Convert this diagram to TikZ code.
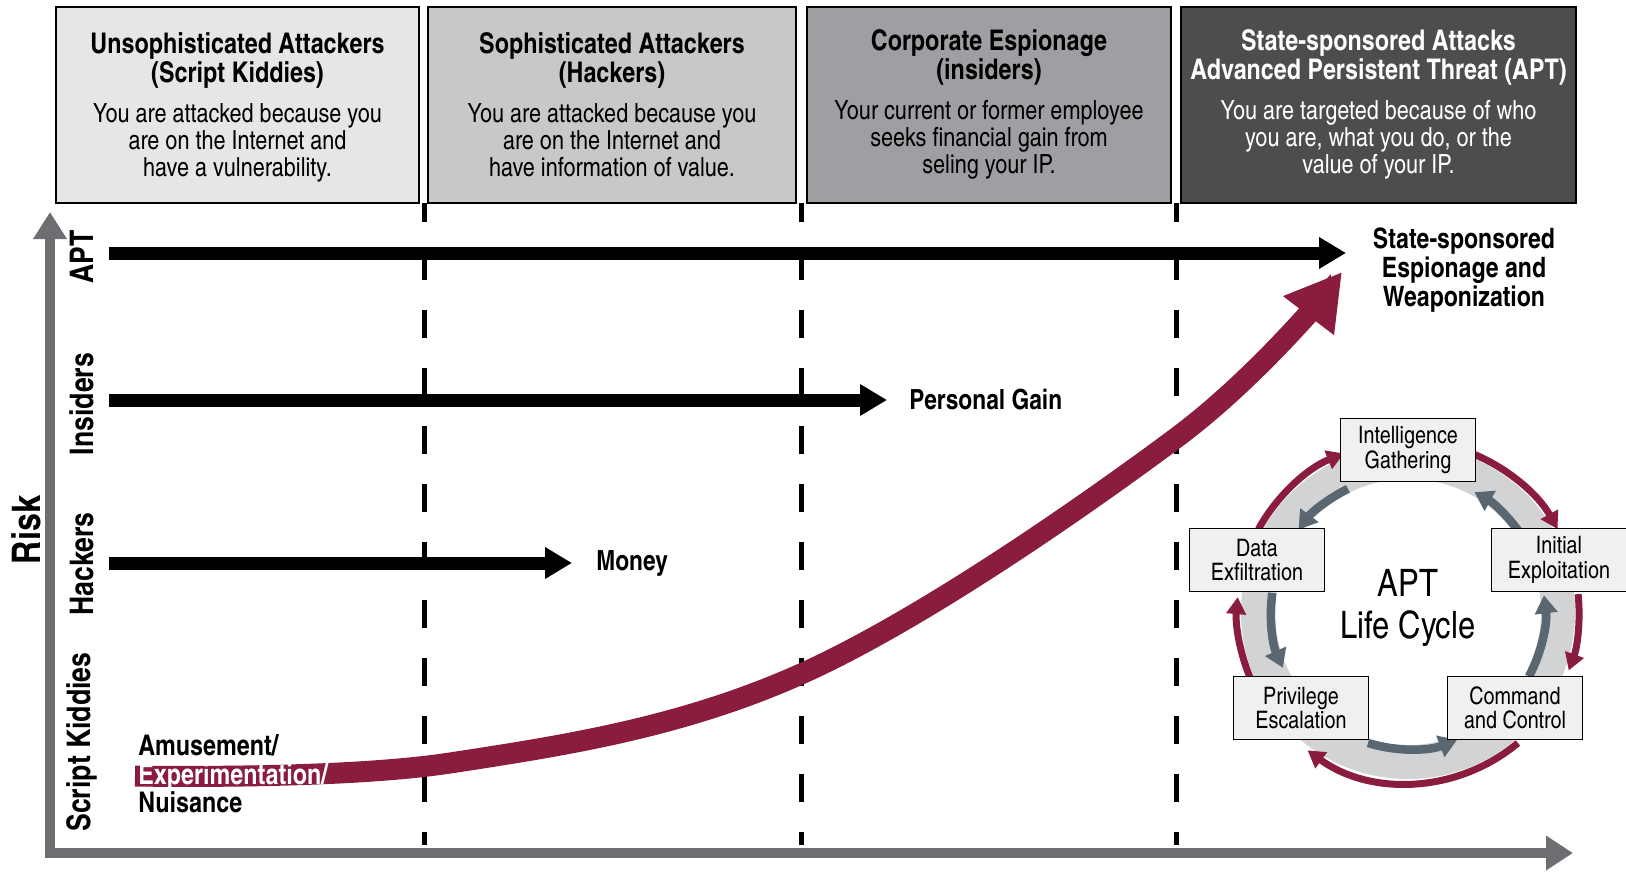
\documentclass[tikz,border=0pt]{standalone}
\usepackage{fontspec}
\setmainfont{texgyreheroscn}[Extension=.otf, UprightFont=*-regular, BoldFont=*-bold, ItalicFont=*-italic, BoldItalicFont=*-bolditalic]
\usetikzlibrary{positioning}
\usetikzlibrary{arrows.meta}

\definecolor{hdone}{HTML}{E6E6E7}
\definecolor{hdtwo}{HTML}{C7C8CA}
\definecolor{hdthree}{HTML}{9D9FA2}
\definecolor{hdfour}{HTML}{4D4D4F}
\definecolor{aptred}{HTML}{8A1C3E}
\definecolor{axisgray}{HTML}{6D6E71}
\definecolor{ringgray}{HTML}{D1D3D4}
\definecolor{slate}{HTML}{5B6770}
\definecolor{stagebox}{HTML}{F0F0F1}

\begin{document}
\begin{tikzpicture}[
    x=0.2mm, y=-0.2mm,
    hdr/.style={draw, line width=0.4mm, minimum height=39.2mm, inner sep=0pt},
    hdtitle/.style={font=\fontsize{16.2}{16.5}\selectfont\bfseries, align=center, inner sep=0pt},
    hdbody/.style={font=\fontsize{15}{15.4}\selectfont, align=center, inner sep=0pt},
    divider/.style={line width=1mm, dash pattern=on 5.6mm off 6mm, dash phase=1.8mm},
    goal/.style={line width=2.6mm, -{Triangle[length=5.4mm, width=6mm]}},
    goallbl/.style={font=\fontsize{15.8}{16.5}\selectfont\bfseries, align=center, inner sep=0pt},
    rowlbl/.style={font=\fontsize{18.5}{20}\selectfont\bfseries, rotate=90, inner sep=0pt},
    axis/.style={axisgray, line width=2mm, {Triangle[length=5.4mm, width=6.4mm]}-{Triangle[length=5.4mm, width=6.6mm]}},
    rise/.style={aptred, line width=4.2mm, -{Triangle[length=11mm, width=12mm]}},
    outloop/.style={aptred, line width=1.4mm, -{Triangle[length=3.4mm, width=3.8mm]}},
    inloop/.style={slate, line width=1.7mm, -{Triangle[length=3.6mm, width=4.4mm]}},
    stage/.style={draw, line width=0.35mm, fill=stagebox, minimum width=27mm, minimum height=12.6mm,
      align=center, inner sep=0pt, font=\fontsize{13.7}{14}\selectfont}
  ]
  \path[use as bounding box] (0,0) rectangle (1626,873);
  % Dividers between attacker classes.
  \draw[divider] (424,203) -- (424,845);
  \draw[divider] (801,203) -- (801,845);
  \draw[divider] (1176,203) -- (1176,845);
  % Attacker classes.
  \node[hdr, fill=hdone, minimum width=72.6mm] (sk) at (237.5,105) {};
  \node[hdtitle, below=5.2mm of sk.north] (sk title) {Unsophisticated Attackers\\(Script Kiddies)};
  \node[hdbody, below=19.4mm of sk.north] (sk body) {You are attacked because you\\are on the Internet and\\have a vulnerability.};
  \node[hdr, fill=hdtwo, minimum width=73.6mm] (hk) at (612,105) {};
  \node[hdtitle, below=5.2mm of hk.north] (hk title) {Sophisticated Attackers\\(Hackers)};
  \node[hdbody, below=19.4mm of hk.north] (hk body) {You are attacked because you\\are on the Internet and\\have information of value.};
  \node[hdr, fill=hdthree, minimum width=72.8mm] (ins) at (989,105) {};
  \node[hdtitle, below=4.6mm of ins.north] (ins title) {Corporate Espionage\\(insiders)};
  \node[hdbody, below=18.8mm of ins.north] (ins body) {Your current or former employee\\seeks financial gain from\\seling your IP.};
  \node[hdr, fill=hdfour, minimum width=79mm] (ss) at (1378.5,105) {};
  \node[hdtitle, text=white, below=4.6mm of ss.north] (ss title) {State-sponsored Attacks\\Advanced Persistent Threat (APT)};
  \node[hdbody, text=white, below=18.8mm of ss.north] (ss body) {You are targeted because of who\\you are, what you do, or the\\value of your IP.};
  % Axes.
  \coordinate (origin) at (50,853);
  \coordinate (ytip) at (50,212);
  \coordinate (xtip) at (1573,853);
  \draw[axis] (ytip) -- (origin) -- (xtip);
  \node[font=\fontsize{22.4}{24}\selectfont\bfseries, rotate=90, inner sep=0pt] (risk) at (26,530) {Risk};
  \node[rowlbl] (apt lbl) at (82,257) {APT};
  \node[rowlbl] (ins lbl) at (82,404) {Insiders};
  \node[rowlbl] (hk lbl) at (82,564) {Hackers};
  \node[rowlbl] (sk lbl) at (82,742) {Script Kiddies};
  % Motives.
  \coordinate (aptS) at (109,253);
  \coordinate (aptE) at (1346,253);
  \coordinate (insS) at (109,400);
  \coordinate (insE) at (887,400);
  \coordinate (hkS) at (109,563);
  \coordinate (hkE) at (572,563);
  \draw[goal] (aptS) -- (aptE);
  \draw[goal] (insS) -- (insE);
  \draw[goal] (hkS) -- (hkE);
  \node[goallbl, font=\fontsize{16}{16.5}\selectfont\bfseries] (weapon) at (1464,270) {State-sponsored\\Espionage and\\Weaponization};
  \node[goallbl, right=4.4mm of insE] (gain) {Personal Gain};
  \node[goallbl, right=4.8mm of hkE] (money) {Money};
  % Rising risk.
  \draw[rise] plot[smooth, tension=0.6] coordinates {(135,776) (450,763) (801,674) (1176,438) (1342,272)};
  \node[goallbl, align=left, anchor=west, font=\fontsize{16.2}{16.2}\selectfont\bfseries] (fun) at (138,774)
    {Amusement/\\\textcolor{white}{Experimentation/}\\Nuisance};
  % APT life cycle.
  \begin{scope}[shift={(1408,612)}, y=0.2mm]
    \draw[ringgray, line width=6.8mm] (0,0) circle[radius=150];
    \draw[outloop] (67:171) arc[start angle=67, end angle=29, radius=171];
    \draw[outloop] (6:171) arc[start angle=6, end angle=-20, radius=171];
    \draw[outloop] (-50:171) arc[start angle=-50, end angle=-126, radius=171];
    \draw[outloop] (-157:171) arc[start angle=-157, end angle=-185, radius=171];
    \draw[outloop] (151:171) arc[start angle=151, end angle=112, radius=171];
    \draw[inloop] (116:137) arc[start angle=116, end angle=143, radius=137];
    \draw[inloop] (172:137) arc[start angle=172, end angle=204, radius=137];
    \draw[inloop] (253:137) arc[start angle=253, end angle=291, radius=137];
    \draw[inloop] (-28:137) arc[start angle=-28, end angle=7, radius=137];
    \draw[inloop] (34:137) arc[start angle=34, end angle=61, radius=137];
    \node[stage] (ig) at (0,162) {Intelligence\\Gathering};
    \node[stage] (ie) at (151,52) {Initial\\Exploitation};
    \node[stage] (cc) at (107,-96) {Command\\and Control};
    \node[stage] (pe) at (-107,-96) {Privilege\\Escalation};
    \node[stage] (de) at (-151,52) {Data\\Exfiltration};
    \node[font=\fontsize{21.5}{24}\selectfont, align=center] (life) at (0,4) {APT\\Life Cycle};
  \end{scope}
\end{tikzpicture}
\end{document}
